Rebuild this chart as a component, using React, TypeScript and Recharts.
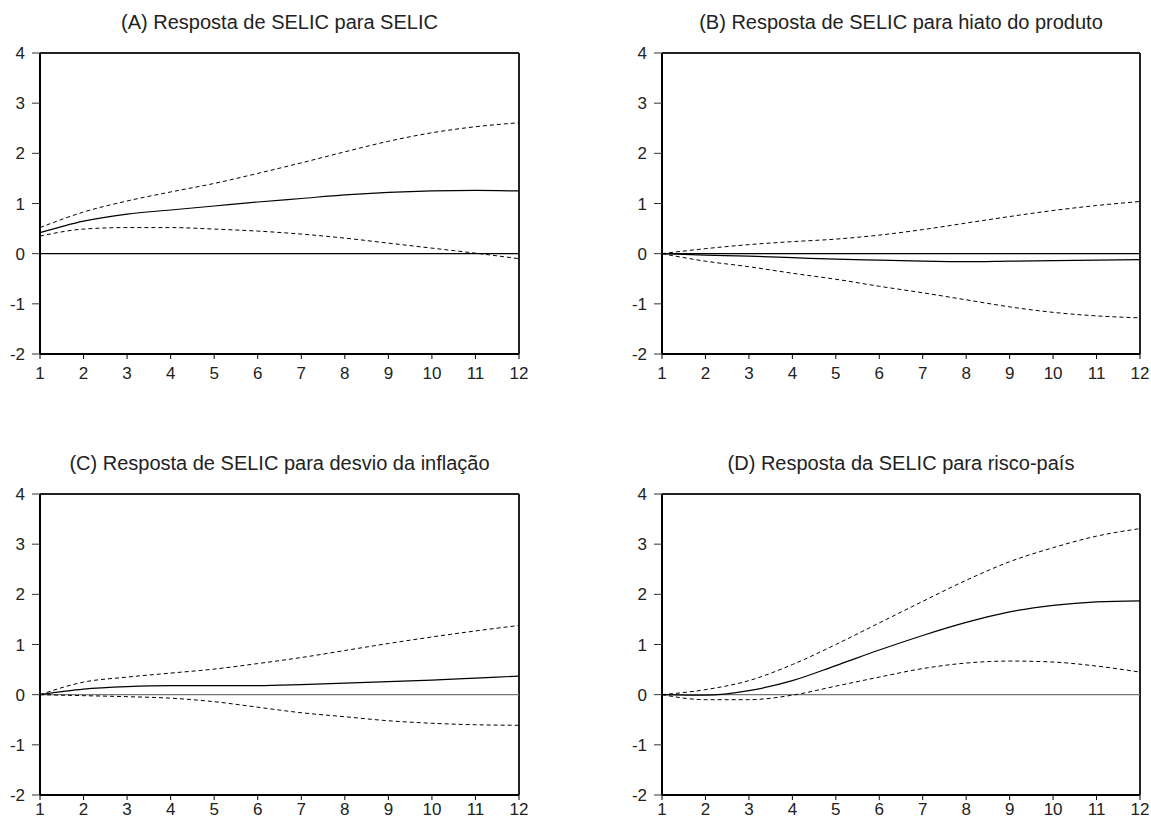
import React from "react";
import { LineChart, Line, XAxis, YAxis, ReferenceLine } from "recharts";

const periods = [1, 2, 3, 4, 5, 6, 7, 8, 9, 10, 11, 12];
const yTicks = [-2, -1, 0, 1, 2, 3, 4];

const titles = [
  "(A) Resposta de SELIC para SELIC",
  "(B) Resposta de SELIC para hiato do produto",
  "(C) Resposta de SELIC para desvio da inflação",
  "(D) Resposta da SELIC para risco-país",
];

const aMid = [0.42, 0.65, 0.79, 0.87, 0.95, 1.03, 1.10, 1.17, 1.22, 1.25, 1.26, 1.25];
const aUp = [0.52, 0.83, 1.05, 1.23, 1.40, 1.60, 1.81, 2.03, 2.24, 2.41, 2.53, 2.61];
const aLo = [0.35, 0.49, 0.52, 0.52, 0.49, 0.45, 0.39, 0.31, 0.21, 0.11, 0.01, -0.10];

const bMid = [0, -0.03, -0.05, -0.08, -0.11, -0.13, -0.15, -0.16, -0.15, -0.14, -0.13, -0.12];
const bUp = [0, 0.10, 0.18, 0.24, 0.29, 0.37, 0.48, 0.61, 0.74, 0.86, 0.96, 1.04];
const bLo = [0, -0.15, -0.26, -0.39, -0.51, -0.65, -0.78, -0.92, -1.06, -1.17, -1.24, -1.28];

const cMid = [0, 0.11, 0.16, 0.18, 0.18, 0.18, 0.20, 0.23, 0.26, 0.29, 0.33, 0.37];
const cUp = [0, 0.25, 0.35, 0.43, 0.51, 0.62, 0.74, 0.88, 1.02, 1.15, 1.27, 1.38];
const cLo = [0, -0.02, -0.04, -0.07, -0.14, -0.25, -0.36, -0.44, -0.52, -0.57, -0.60, -0.61];

const dMid = [0, -0.01, 0.08, 0.28, 0.58, 0.89, 1.18, 1.44, 1.65, 1.78, 1.85, 1.87];
const dUp = [0, 0.10, 0.28, 0.60, 1.00, 1.43, 1.86, 2.28, 2.65, 2.93, 3.16, 3.31];
const dLo = [0, -0.10, -0.10, -0.01, 0.17, 0.35, 0.52, 0.63, 0.67, 0.65, 0.57, 0.45];

const build = (mid: number[], up: number[], lo: number[]) =>
  periods.map((p, i) => ({ p, mid: mid[i], up: up[i], lo: lo[i] }));

const FONT = "'Liberation Sans', Arial, sans-serif";

type PanelProps = {
  title: string;
  data: { p: number; mid: number; up: number; lo: number }[];
  left: number;
  top: number;
  width: number;
  height: number;
  yAxisWidth: number;
  marginRight: number;
  marginTop: number;
  marginBottom: number;
  xTickMargin: number;
  zeroColor: string;
};

function Panel(props: PanelProps) {
  const { title, data, left, top, width, height, yAxisWidth, marginRight, marginTop, marginBottom, xTickMargin, zeroColor } = props;
  const plotLeft = left + yAxisWidth;
  const plotRight = left + width - marginRight;
  const center = (plotLeft + plotRight) / 2;
  return (
    <>
      <div
        style={{
          position: "absolute",
          left: center - 300,
          top: top + marginTop - 41,
          width: 600,
          textAlign: "center",
          fontFamily: FONT,
          fontSize: 20,
          lineHeight: "20px",
          color: "#222",
          whiteSpace: "nowrap",
        }}
      >
        {title}
      </div>
      <div style={{ position: "absolute", left, top }}>
        <LineChart
          width={width}
          height={height}
          data={data}
          margin={{ top: marginTop, right: marginRight, left: 0, bottom: marginBottom }}
        >
          <XAxis
            dataKey="p"
            type="number"
            domain={[1, 12]}
            ticks={periods}
            interval={0}
            height={30}
            tickSize={5}
            tickMargin={xTickMargin}
            axisLine={{ stroke: "#000", strokeWidth: 2 }}
            tickLine={{ stroke: "#000" }}
            tick={{ fill: "#222", fontSize: 17, fontFamily: FONT }}
          />
          <YAxis
            type="number"
            domain={[-2, 4]}
            ticks={yTicks}
            interval={0}
            width={yAxisWidth}
            tickSize={8}
            tickMargin={7}
            axisLine={{ stroke: "#000", strokeWidth: 2 }}
            tickLine={{ stroke: "#333" }}
            tick={{ fill: "#222", fontSize: 17, fontFamily: FONT }}
          />
          <ReferenceLine y={4} stroke="#222" strokeWidth={2} />
          <ReferenceLine x={12} stroke="#222" strokeWidth={2} />
          <ReferenceLine y={0} stroke={zeroColor} strokeWidth={1.2} />
          <Line dataKey="up" type="monotone" stroke="#000" strokeWidth={1} strokeDasharray="4 3" dot={false} isAnimationActive={false} />
          <Line dataKey="lo" type="monotone" stroke="#000" strokeWidth={1} strokeDasharray="4 3" dot={false} isAnimationActive={false} />
          <Line dataKey="mid" type="monotone" stroke="#000" strokeWidth={1.2} dot={false} isAnimationActive={false} />
        </LineChart>
      </div>
    </>
  );
}

export default function App() {
  return (
    <div style={{ position: "fixed", left: 0, top: 0, width: 1151, height: 822, overflow: "hidden", background: "#fff" }}>
      <Panel title={titles[0]} data={build(aMid, aUp, aLo)} left={0} top={0} width={560} height={400}
        yAxisWidth={40} marginRight={41} marginTop={53} marginBottom={16} xTickMargin={8} zeroColor="#000" />
      <Panel title={titles[1]} data={build(bMid, bUp, bLo)} left={600} top={0} width={551} height={400}
        yAxisWidth={62} marginRight={11} marginTop={53} marginBottom={16} xTickMargin={8} zeroColor="#000" />
      <Panel title={titles[2]} data={build(cMid, cUp, cLo)} left={0} top={440} width={560} height={382}
        yAxisWidth={40} marginRight={41} marginTop={54} marginBottom={-3} xTickMargin={3} zeroColor="#777" />
      <Panel title={titles[3]} data={build(dMid, dUp, dLo)} left={600} top={440} width={551} height={382}
        yAxisWidth={62} marginRight={11} marginTop={54} marginBottom={-3} xTickMargin={3} zeroColor="#777" />
    </div>
  );
}
